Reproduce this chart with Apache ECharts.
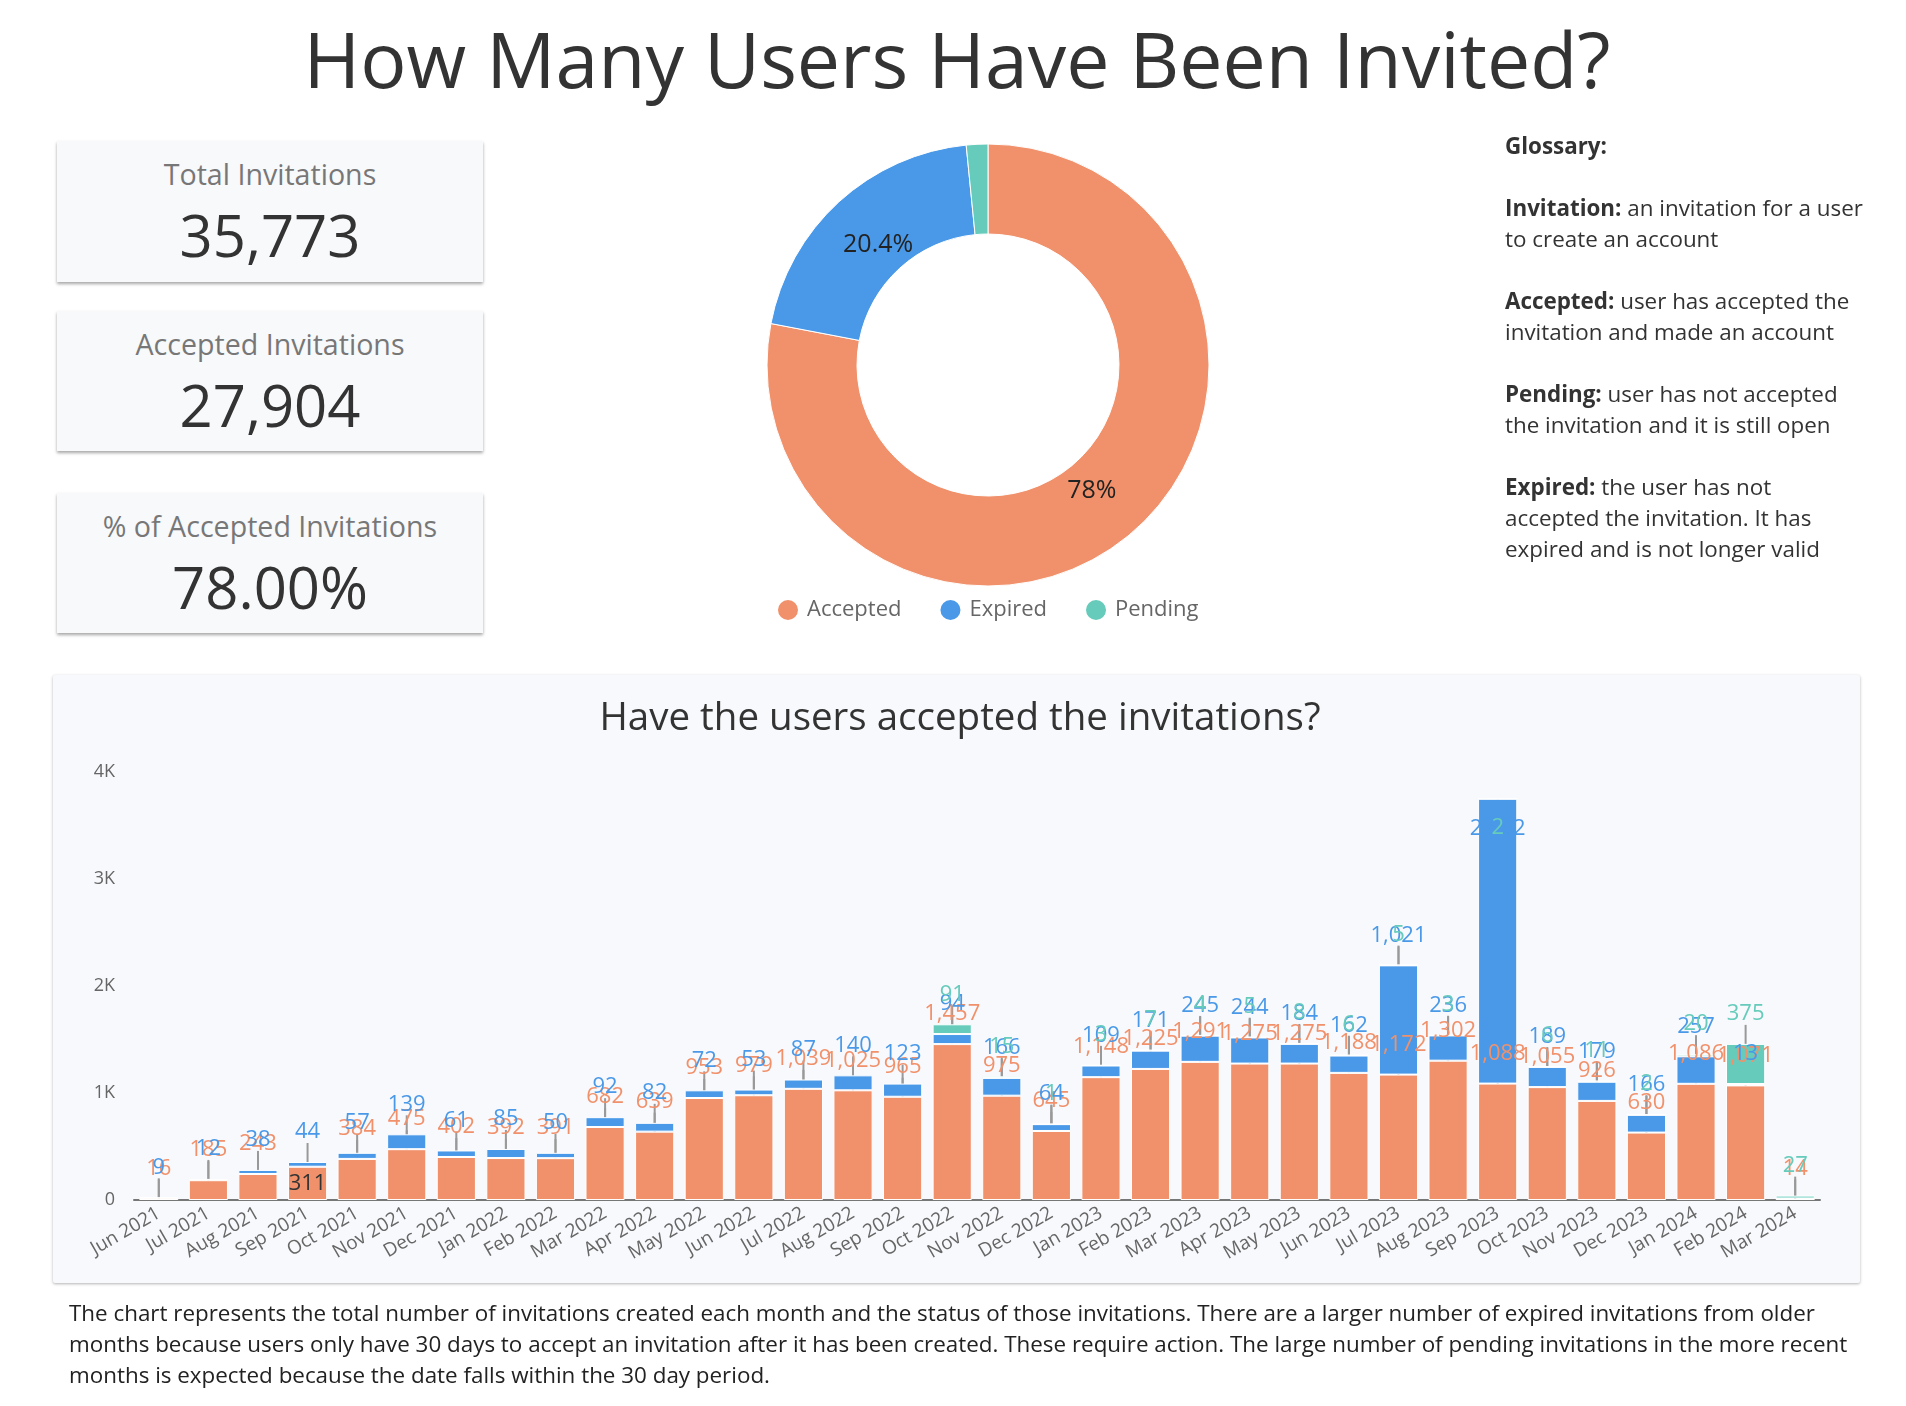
<!DOCTYPE html>
<html>
<head>
<meta charset="utf-8">
<script src="https://cdn.jsdelivr.net/npm/echarts@6/dist/echarts.min.js"></script>
<style>
html,body{margin:0;padding:0;background:#fff;width:1906px;height:1406px;overflow:hidden;font-family:'Open Sans',sans-serif;}
.card{position:absolute;left:57px;width:426px;background:#f8f9fb;box-shadow:0 2px 3px rgba(0,0,0,0.35);z-index:0;}
.card .lbl{position:absolute;left:0;right:0;top:13px;text-align:center;font-size:28.6px;color:#777;line-height:40px;}
.card .val{position:absolute;left:0;right:0;top:59px;text-align:center;font-size:58px;color:#333;line-height:70px;}
#panel{position:absolute;left:53px;top:675px;width:1807px;height:608px;background:#f8f9fc;box-shadow:0 1px 3px rgba(0,0,0,0.3);border-radius:2px;z-index:0;}
#chart{position:absolute;left:0;top:0;width:1906px;height:1406px;z-index:1;}
#glossary{position:absolute;left:1505px;top:130px;font-size:22.4px;line-height:31px;color:#333;white-space:nowrap;z-index:2;}
#glossary b{font-weight:700;}
#footer{position:absolute;left:69px;top:1297px;font-size:22.4px;line-height:31px;color:#222;white-space:nowrap;z-index:2;}
</style>
</head>
<body>
<div id="cards"></div>
<div id="panel"></div>
<div id="glossary">
<b>Glossary:</b><br><br>
<b>Invitation:</b> an invitation for a user<br>to create an account<br><br>
<b>Accepted:</b> user has accepted the<br>invitation and made an account<br><br>
<b>Pending:</b> user has not accepted<br>the invitation and it is still open<br><br>
<b>Expired:</b> the user has not<br>accepted the invitation. It has<br>expired and is not longer valid
</div>
<div id="footer">The chart represents the total number of invitations created each month and the status of those invitations. There are a larger number of expired invitations from older<br>months because users only have 30 days to accept an invitation after it has been created. These require action. The large number of pending invitations in the more recent<br>months is expected because the date falls within the 30 day period.</div>
<div id="chart"></div>
<script>
// ---- data ----
const kpiLabels = ['Total Invitations', 'Accepted Invitations', '% of Accepted Invitations'];
const kpiValues = ['35,773', '27,904', '78.00%'];

const statusNames = ['Accepted', 'Expired', 'Pending'];
const pieValues = [27904, 7306, 563];

const categories = ['Jun 2021','Jul 2021','Aug 2021','Sep 2021','Oct 2021','Nov 2021','Dec 2021',
  'Jan 2022','Feb 2022','Mar 2022','Apr 2022','May 2022','Jun 2022','Jul 2022','Aug 2022','Sep 2022',
  'Oct 2022','Nov 2022','Dec 2022','Jan 2023','Feb 2023','Mar 2023','Apr 2023','May 2023','Jun 2023',
  'Jul 2023','Aug 2023','Sep 2023','Oct 2023','Nov 2023','Dec 2023','Jan 2024','Feb 2024','Mar 2024'];
const accepted = [16,185,243,311,384,475,402,392,391,682,639,953,979,1039,1025,965,1457,975,645,
  1148,1225,1291,1275,1275,1188,1172,1302,1088,1055,926,630,1086,1071,14];
const expired = [9,12,38,44,57,139,61,85,50,92,82,72,53,87,140,123,94,166,64,
  109,171,245,244,184,162,1021,236,2662,189,179,166,257,13,0];
const pending = [0,0,0,0,0,0,0,0,0,0,0,0,0,0,0,0,91,15,1,
  3,7,4,5,8,6,5,3,2,6,11,2,20,375,27];
const yTicks = [0, 1000, 2000, 3000, 4000];

// ---- styles ----
const colors = ['#f1916b', '#4a99e8', '#66cbbb'];
const FONT = "'Open Sans', sans-serif";
const cardTops = [141, 311, 493];
const cardHeights = [141, 140, 140];
const insideLabel = { series: 'Accepted', category: 'Sep 2021' };
const gridTop = 772;
const pieCenter = [988, 365];

// ---- cards ----
const cardsEl = document.getElementById('cards');
kpiLabels.forEach((l, i) => {
  const d = document.createElement('div');
  d.className = 'card';
  d.style.top = cardTops[i] + 'px';
  d.style.height = cardHeights[i] + 'px';
  d.innerHTML = '<div class="lbl">' + l + '</div><div class="val">' + kpiValues[i] + '</div>';
  cardsEl.appendChild(d);
});

// ---- chart ----
const chart = echarts.init(document.getElementById('chart'));
const seriesValues = [accepted, expired, pending];

function makeLayout(insideIdx) {
  return function (p) {
    if (p.dataIndex === insideIdx) return {};
    const cx = p.rect.x + p.rect.width / 2;
    let cy = p.rect.y - 30;
    if (cy - 12 < gridTop) cy = p.rect.y + 30;
    return { x: cx, y: cy, align: 'center', verticalAlign: 'middle' };
  };
}

const barSeries = statusNames.map((name, si) => {
  const insideIdx = name === insideLabel.series ? categories.indexOf(insideLabel.category) : -1;
  return {
    name: name,
    type: 'bar',
    stack: 'total',
    barCategoryGap: '21%',
    itemStyle: { color: colors[si], borderColor: '#ffffff', borderWidth: 1 },
    label: {
      show: true, position: 'top', distance: 0, fontSize: 22, fontFamily: FONT,
      color: colors[si],
      formatter: p => Number(p.value).toLocaleString('en-US')
    },
    labelLine: { show: true, lineStyle: { color: '#999', width: 2 } },
    labelLayout: makeLayout(insideIdx),
    emphasis: { disabled: true },
    data: seriesValues[si].map((v, i) => {
      if (v === 0) return '-';
      if (i === insideIdx) return { value: v, label: { position: 'inside', color: '#333' }, labelLine: { show: false } };
      return v;
    })
  };
});

const option = {
  animation: false,
  textStyle: { fontFamily: FONT },
  title: [
    { text: 'How Many Users Have Been Invited?', left: 952, textAlign: 'center', top: 23,
      textStyle: { fontSize: 77, fontWeight: 'normal', color: '#333', fontFamily: FONT } },
    { text: 'Have the users accepted the invitations?', left: 955, textAlign: 'center', top: 695,
      textStyle: { fontSize: 38.5, fontWeight: 'normal', color: '#333', fontFamily: FONT } }
  ],
  legend: {
    data: statusNames, left: 771, top: 593, icon: 'circle', itemWidth: 22, itemHeight: 22, itemGap: 37,
    textStyle: { fontSize: 22, color: '#666', fontFamily: FONT, padding: [0, 0, 0, 3] }
  },
  grid: { left: 134, right: 86, top: gridTop, bottom: 206 },
  xAxis: {
    type: 'category', data: categories,
    axisLine: { lineStyle: { color: '#777', width: 2 } },
    axisTick: { show: false },
    axisLabel: { rotate: 30, interval: 0, fontSize: 19, color: '#666', margin: 12, fontFamily: FONT }
  },
  yAxis: {
    type: 'value', min: yTicks[0], max: yTicks[yTicks.length - 1], interval: 1000,
    splitLine: { show: false }, axisLine: { show: false }, axisTick: { show: false },
    axisLabel: { fontSize: 18, color: '#666', margin: 19, fontFamily: FONT,
      formatter: v => v === 0 ? '0' : (v / 1000) + 'K' }
  },
  series: [
    {
      name: 'Status', type: 'pie', center: pieCenter, radius: [131, 221],
      startAngle: 90, clockwise: true,
      itemStyle: { borderColor: '#ffffff', borderWidth: 1 },
      label: { show: true, position: 'inside', fontSize: 25, color: '#222', fontFamily: FONT,
        formatter: p => p.percent < 5 ? '' : (Math.round(p.percent * 10) / 10) + '%' },
      labelLine: { show: false },
      labelLayout: function (p) {
        const lx = p.labelRect.x + p.labelRect.width / 2;
        const ly = p.labelRect.y + p.labelRect.height / 2;
        const k = 0.91;
        return { x: pieCenter[0] + (lx - pieCenter[0]) * k, y: pieCenter[1] + (ly - pieCenter[1]) * k,
          align: 'center', verticalAlign: 'middle' };
      },
      emphasis: { disabled: true },
      data: statusNames.map((n, i) => ({ name: n, value: pieValues[i], itemStyle: { color: colors[i] } }))
    }
  ].concat(barSeries)
};
chart.setOption(option);
</script>
</body>
</html>
